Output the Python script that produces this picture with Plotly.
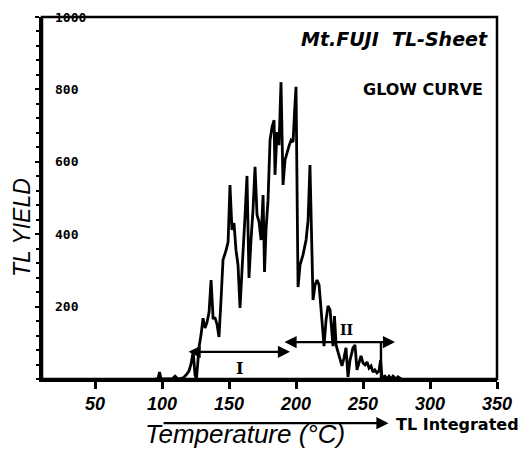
import plotly.graph_objects as go

# Glow curve trace (temperature in °C, TL yield)
temperature = [94.8, 97.0, 98.1, 99.3, 107.5, 109.7, 111.9, 115.7, 117.9, 120.1, 121.6, 122.8, 123.5,
               124.6, 125.7, 126.9, 127.6, 129.1, 130.6, 132.1, 133.6, 135.1, 136.6, 138.1, 139.6,
               141.0, 142.5, 144.0, 145.5, 147.8, 149.3, 150.7, 152.2, 153.7, 155.2, 156.7, 158.2,
               159.7, 161.2, 161.9, 163.4, 164.9, 166.4, 167.9, 169.4, 170.9, 172.4, 173.9, 175.4,
               176.5, 177.6, 179.1, 180.6, 182.1, 183.6, 184.3, 185.8, 187.3, 188.8, 190.3, 191.8,
               193.3, 194.8, 196.3, 197.8, 198.9, 200.0, 200.7, 201.5, 203.0, 205.2, 207.5, 209.0,
               210.4, 211.6, 212.7, 214.2, 215.7, 217.2, 218.7, 220.1, 220.9, 222.4, 223.9, 225.4,
               226.9, 227.6, 228.7, 229.9, 231.3, 232.8, 234.3, 235.8, 237.3, 238.8, 240.3, 242.5,
               244.0, 245.5, 247.0, 248.5, 250.0, 251.5, 253.0, 254.5, 256.0, 257.5, 258.9, 260.4,
               261.9, 263.1, 264.2, 266.4, 267.9, 269.4, 270.9, 272.4, 274.6, 276.1, 278.4]
tl_yield = [0, 0, 19, 0, 0, 8, 0, 3, 11, 22, 41, 66, 64,
            11, 0, 47, 88, 122, 168, 141, 157, 185, 273, 168, 168,
            152, 116, 218, 329, 356, 378, 536, 412, 431, 356, 315, 196,
            301, 384, 448, 561, 279, 384, 467, 586, 453, 434, 384, 508,
            296, 412, 494, 660, 696, 715, 564, 682, 646, 820, 536, 605,
            627, 644, 660, 655, 738, 807, 550, 254, 315, 343, 384, 439,
            591, 384, 218, 260, 273, 260, 191, 130, 91, 163, 202, 191,
            130, 91, 174, 94, 75, 52, 36, 58, 86, 6, 52, 86,
            94, 25, 47, 64, 44, 39, 47, 30, 36, 19, 25, 17,
            22, 52, 3, 8, 0, 8, 0, 8, 0, 6, 0]

# Integration regions: (start, end, arrow height)
region_I = [118.7, 195.5, 75]
region_II = [190.3, 273.9, 102]
region_II_boundary = 263.4
label_I_pos = [158.0, 30]
label_II_pos = [237.3, 135]
integrated_arrow = [100, 269]

x_ticks = [50, 100, 150, 200, 250, 300, 350]
y_ticks = [200, 400, 600, 800, 1000]

fig = go.Figure()
fig.add_trace(go.Scatter(x=temperature, y=tl_yield, mode="lines",
                         line=dict(color="black", width=2.8), showlegend=False))
fig.add_trace(go.Scatter(x=[region_II_boundary, region_II_boundary], y=[0, region_II[2]],
                         mode="lines", line=dict(color="black", width=2.4), showlegend=False))

ann = []
for (x0, x1, yv) in [region_I, region_II]:
    ann.append(dict(x=x1, y=yv, ax=x0, ay=yv, xref="x", yref="y", axref="x", ayref="y",
                    showarrow=True, arrowhead=2, arrowside="end+start", arrowsize=1.1,
                    arrowwidth=2.2, arrowcolor="black", text=""))
ann.append(dict(x=label_I_pos[0], y=label_I_pos[1], xref="x", yref="y", text="I", showarrow=False,
                font=dict(family="DejaVu Serif", size=16, color="black", weight="bold")))
ann.append(dict(x=label_II_pos[0], y=label_II_pos[1], xref="x", yref="y", text="II", showarrow=False,
                font=dict(family="DejaVu Serif", size=14, color="black", weight="bold")))
# y tick labels drawn inside the frame
for v in y_ticks:
    ann.append(dict(x=0.024, y=v, xref="paper", yref="y", xanchor="left", yanchor="middle",
                    text=str(v), showarrow=False,
                    font=dict(family="DejaVu Sans Mono", size=13, color="black", weight="bold")))
# TL integrated arrow below the axis
ann.append(dict(x=integrated_arrow[1], y=-0.122, ax=integrated_arrow[0], ay=-0.122,
                xref="x", yref="y domain", axref="x", ayref="y domain",
                showarrow=True, arrowhead=2, arrowsize=1.1, arrowwidth=2.2, arrowcolor="black", text=""))
ann.append(dict(x=0.913, y=-0.127, xref="paper", yref="paper", xanchor="center", yanchor="middle",
                text="TL Integrated", showarrow=False,
                font=dict(family="DejaVu Sans", size=16, color="black", weight="bold")))
ann.append(dict(x=0.446, y=-0.152, xref="paper", yref="paper", xanchor="center", yanchor="middle",
                text="Temperature (°C)", showarrow=False,
                font=dict(family="Liberation Sans", size=26, color="black", style="italic")))
ann.append(dict(x=-0.0747, y=0.417, xref="paper", yref="paper", xanchor="left", yanchor="middle",
                text="TL YIELD", textangle=-90, showarrow=False, borderpad=0,
                font=dict(family="Liberation Sans", size=23, color="black", style="italic")))
ann.append(dict(x=0.985, y=0.94, xref="paper", yref="paper", xanchor="right", yanchor="middle",
                text="Mt.FUJI  TL-Sheet", showarrow=False,
                font=dict(family="DejaVu Sans", size=19, color="black", style="italic", weight="bold")))
ann.append(dict(x=0.974, y=0.80, xref="paper", yref="paper", xanchor="right", yanchor="middle",
                text="GLOW CURVE", showarrow=False,
                font=dict(family="DejaVu Sans", size=16, color="black", weight="bold")))

fig.update_layout(
    width=523, height=450,
    margin=dict(l=34, r=34, t=9, b=79, autoexpand=False),
    paper_bgcolor="white", plot_bgcolor="white",
    annotations=ann,
    shapes=[dict(type="rect", xref="paper", yref="paper", x0=0, x1=1, y0=0, y1=1,
                 line=dict(color="black", width=2.5), layer="above")],
    xaxis=dict(range=[10.4, 350], tickvals=x_ticks, ticktext=[str(v) for v in x_ticks],
               ticks="outside", ticklen=7, tickwidth=2.5, tickcolor="black",
               showline=True, linecolor="black", linewidth=2.5,
               showgrid=False, zeroline=False, automargin=False,
               tickfont=dict(family="Liberation Sans", size=18, color="black",
                             style="italic", weight="bold")),
    yaxis=dict(range=[0, 1000], tickvals=y_ticks, showticklabels=False,
               ticks="outside", ticklen=4, tickwidth=2, tickcolor="black",
               minor=dict(dtick=40, ticks="outside", ticklen=3, tickwidth=1.5, tickcolor="black"),
               showline=True, linecolor="black", linewidth=2.5,
               showgrid=False, zeroline=False, automargin=False),
)

fig.write_html("out.html")
